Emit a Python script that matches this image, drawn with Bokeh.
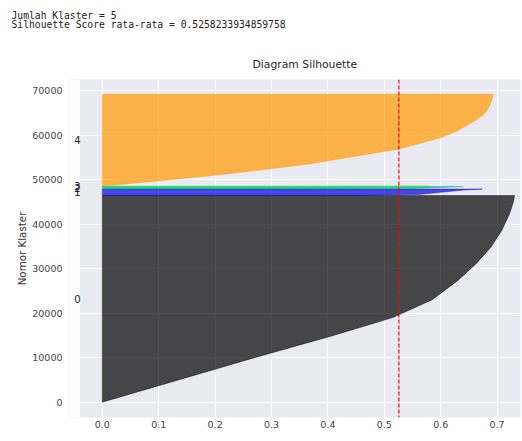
from bokeh.plotting import figure
from bokeh.layouts import column
from bokeh.models import Range1d, Span, Label, FixedTicker, PrintfTickFormatter, BoxAnnotation
from bokeh.embed import file_html
from bokeh.resources import INLINE

# ---- data ----
n_clusters = 5
avg_score = 0.5258233934859758
cluster_ids = [0, 1, 2, 3, 4]
cluster_sizes = [46440, 1440, 540, 100, 20630]
gap = 10
cluster_colors = ["#000000", "#0000dd", "#00aa88", "#00ff00", "#ff9900"]

# sorted silhouette profile per cluster: rank inside cluster -> value
c0_rank = [0, 5000, 10000, 15000, 19000, 23000, 27300, 31000, 34800, 38500, 42300, 45000, 46440]
c0_val = [0.0, 0.135, 0.27, 0.41, 0.515, 0.585, 0.630, 0.662, 0.689, 0.708, 0.722, 0.729, 0.731]
c1_rank = [0, 200, 700, 1200, 1440]
c1_val = [0.45, 0.56, 0.60, 0.64, 0.674]
c2_rank = [0, 100, 400, 540]
c2_val = [0.40, 0.55, 0.61, 0.64]
c3_rank = [0, 50, 100]
c3_val = [0.20, 0.45, 0.58]
c4_rank = [0, 250, 1150, 2660, 4900, 8340, 10880, 12390, 14630, 16140, 17830, 19510, 20630]
c4_val = [0.0, 0.02, 0.098, 0.216, 0.363, 0.526, 0.600, 0.629, 0.660, 0.677, 0.686, 0.691, 0.693]
profiles = [(c0_rank, c0_val), (c1_rank, c1_val), (c2_rank, c2_val), (c3_rank, c3_val), (c4_rank, c4_val)]

x_ticks = [0.0, 0.1, 0.2, 0.3, 0.4, 0.5, 0.6, 0.7]
y_ticks = [0, 10000, 20000, 30000, 40000, 50000, 60000, 70000]
label_x = -0.05
axes_x_start = -0.04

FONT = "DejaVu Sans"
MONO = "DejaVu Sans Mono"

# ---- printed output above the chart ----
info = figure(width=521, height=40, output_backend="svg", toolbar_location=None,
              title="Jumlah Klaster = %d\nSilhouette Score rata-rata = %s" % (n_clusters, repr(avg_score)),
              x_range=Range1d(0, 1), y_range=Range1d(0, 1),
              min_border_left=68, min_border_right=1, min_border_top=0, min_border_bottom=0)
info.axis.visible = False
info.grid.visible = False
info.outline_line_color = None
info.background_fill_color = "white"
info.border_fill_color = "white"
info.title.align = "left"
info.title.offset = -57
info.title.text_font = MONO
info.title.text_font_size = "9.7px"
info.title.text_font_style = "normal"
info.title.text_color = "#222222"
info.title.text_line_height = 0.9
info.title.standoff = 14

# ---- silhouette chart ----
p = figure(width=521, height=400, output_backend="svg", toolbar_location=None,
           title="Diagram Silhouette",
           x_range=Range1d(-0.06, 0.7415), y_range=Range1d(-3440, 72520),
           min_border_left=68, min_border_top=39, min_border_right=1, min_border_bottom=23)
p.background_fill_color = "#EAEAF2"
p.border_fill_color = "white"
p.outline_line_color = None
p.title.align = "left"
p.title.offset = 184
p.title.text_font = FONT
p.title.text_font_size = "10.8px"
p.title.text_font_style = "normal"
p.title.text_color = "#262626"
p.title.standoff = 17

for ax in (p.xaxis[0], p.yaxis[0]):
    ax.axis_line_color = None
    ax.major_tick_line_color = None
    ax.minor_tick_line_color = None
    ax.major_tick_out = 0
    ax.major_tick_in = 0
    ax.major_label_text_font = FONT
    ax.major_label_text_font_size = "9.5px"
    ax.major_label_text_color = "#444444"
p.xaxis.major_label_standoff = 3
p.yaxis.major_label_standoff = 6
p.xaxis.ticker = FixedTicker(ticks=x_ticks)
p.yaxis.ticker = FixedTicker(ticks=y_ticks)
p.xaxis.formatter = PrintfTickFormatter(format="%.1f")
p.yaxis.formatter = PrintfTickFormatter(format="%d")
p.yaxis.axis_label = "Nomor Klaster"
p.yaxis.axis_label_text_font = FONT
p.yaxis.axis_label_text_font_size = "10.3px"
p.yaxis.axis_label_text_font_style = "normal"
p.yaxis.axis_label_text_color = "#333333"
p.yaxis.axis_label_standoff = 1

p.xgrid.grid_line_color = "white"
p.ygrid.grid_line_color = "white"

# white strip left of the axes area (cluster labels sit outside the axes in the reference)
p.add_layout(BoxAnnotation(left=-0.06, right=axes_x_start, fill_color="white",
                           fill_alpha=1.0, line_color=None))

y_lower = 10
for cid, size, color, (ranks, vals) in zip(cluster_ids, cluster_sizes, cluster_colors, profiles):
    ys = [y_lower] + [y_lower + r for r in ranks] + [y_lower + size]
    xs = [0.0] + list(vals) + [0.0]
    p.patch(xs, ys, fill_color=color, fill_alpha=0.7, line_color=color, line_alpha=0.7, line_width=0.6)
    p.add_layout(Label(x=label_x, y=y_lower + 0.5 * size, text=str(cid), text_font=FONT,
                       text_font_size="10px", text_color="#262626", text_align="left",
                       text_baseline="alphabetic"))
    y_lower = y_lower + size + gap

p.add_layout(Span(location=avg_score, dimension="height", line_color="red",
                  line_dash="4 2", line_width=1.2))

layout = column(info, p, spacing=0)
open("out.html", "w").write(file_html(layout, INLINE))
